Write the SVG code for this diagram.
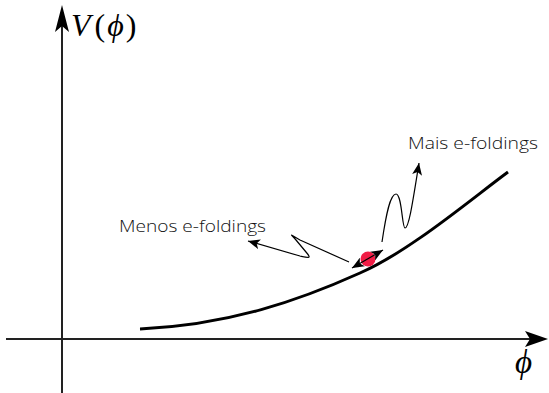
<svg xmlns="http://www.w3.org/2000/svg" width="549" height="393" viewBox="0 0 549 393">
<style>
.axis{stroke:#222;stroke-width:2;fill:none}
.curve{stroke:#000;stroke-width:3;fill:none}
.thin{stroke:#000;stroke-width:1.2;fill:none}
.lbl{font-family:"Open Sans",Lato,sans-serif;font-size:16.5px;font-weight:300;fill:#111}
.math{font-family:"Liberation Serif",serif;font-style:italic;fill:#000}
</style>
<defs>
<marker id="ah" markerWidth="14" markerHeight="10" refX="12" refY="5" orient="auto" markerUnits="userSpaceOnUse">
<path d="M0,0 L12,5 L0,10 L3,5 Z" fill="#000"/>
</marker>
<marker id="ahs" markerWidth="14" markerHeight="10" refX="12" refY="5" orient="auto-start-reverse" markerUnits="userSpaceOnUse">
<path d="M0,0 L12,5 L0,10 L3,5 Z" fill="#000"/>
</marker>
</defs>
<g id="axes">
<line class="axis" x1="62" y1="20" x2="62" y2="393"/>
<path d="M62,5 L69,32 L62,26 L55,32 Z" fill="#000"/>
<line class="axis" x1="6" y1="339" x2="535" y2="339"/>
<path d="M548,339 L525,331 L530,339 L525,347 Z" fill="#000"/>
</g>
<g id="labels-axes">
<text class="math" x="71" y="36" font-size="32">V<tspan font-style="normal" dx="4">(</tspan><tspan dx="2">ϕ</tspan><tspan font-style="normal" dx="2">)</tspan></text>
<text class="math" x="515" y="373" font-size="33">ϕ</text>
</g>
<g id="potential">
<path class="curve" d="M140,329 C 230,325 300,300 360,273 C 410,251 470,200 508,172"/>
</g>
<g id="ball">
<circle cx="368" cy="259" r="7.5" fill="#f01c45"/>
</g>
<g id="connectors">
<line class="thin" x1="352" y1="268" x2="383" y2="250" marker-start="url(#ahs)" marker-end="url(#ahs)" stroke-width="1.6"/>
<path class="thin" d="M349,262 L300,240 C 289,234 290,233 296,240 L306,252 C 312,259 309,258 300,256 L248,241" marker-end="url(#ah)"/>
<path class="thin" d="M382,242 C 386,215 390,194 396,194 C 402,194 402,228 405,228 C 409,228 413,200 419,163" marker-end="url(#ah)"/>
</g>
<g id="text-labels">
<text class="lbl" x="408" y="149" textLength="130" lengthAdjust="spacingAndGlyphs">Mais e-foldings</text>
<text class="lbl" x="119" y="232" textLength="147" lengthAdjust="spacingAndGlyphs">Menos e-foldings</text>
</g>
</svg>
